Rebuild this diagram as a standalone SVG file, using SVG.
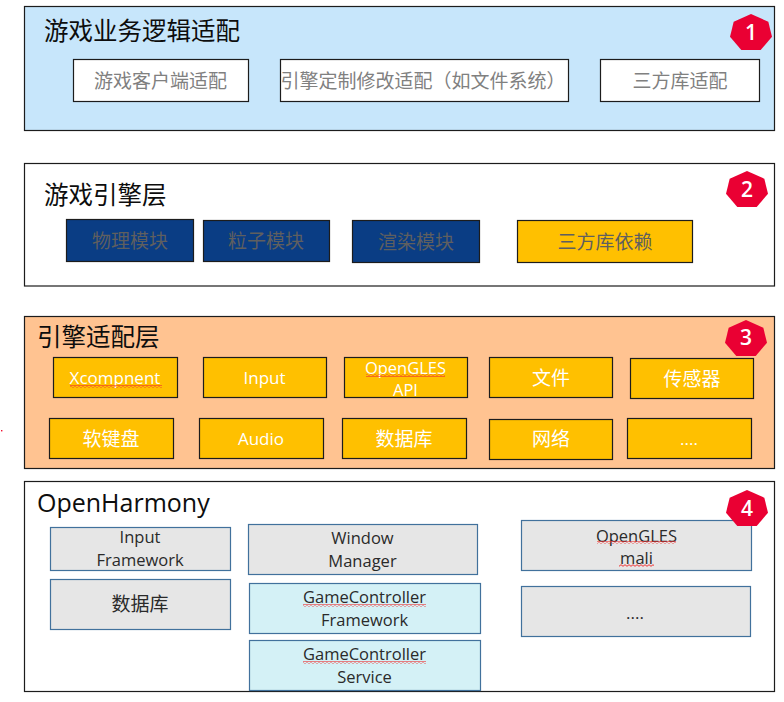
<svg xmlns="http://www.w3.org/2000/svg" width="784" height="702" viewBox="0 0 784 702">
<style>
text{font-family:"Noto Sans CJK SC","Open Sans",sans-serif;text-anchor:middle}
.lat{font-family:"Open Sans","Noto Sans CJK SC",sans-serif;font-size:16.5px}
.layer{stroke:#1c1c1c;stroke-width:1.2}
.box{stroke:#1c1c1c;stroke-width:1.2}
.title{font-size:24.5px;fill:#0d0d0d;text-anchor:start}
.wht{fill:#fff}
.t19{font-size:19px}
.g1{fill:#808080}
.g2{fill:#5f5f5f}
.w{fill:#fff}
.d{fill:#2a2a2a}
.or{fill:#ffc000}
.nv{fill:#0a3d84}
.gr{fill:#e6e6e6;stroke:#41719c;stroke-width:1.2}
.cy{fill:#d4f1f6;stroke:#41719c;stroke-width:1.2}
.num{font-family:"Open Sans",sans-serif;font-size:21px;fill:#fff;font-weight:600}
.sq{fill:none;stroke:#f03030;stroke-width:1}
</style>
<defs>
<polygon id="hept" points="0,0 17.3,7.7 21,22.7 9.7,36 -9.7,36 -21,22.7 -17.3,7.7" fill="#ea0033"/>
<pattern id="wave" width="4" height="3" patternUnits="userSpaceOnUse"><path d="M0,1.5 L1,.7 L3,2.3 L4,1.5" class="sq"/></pattern>
</defs>
<rect id="stray-dot" x="1" y="430" width="1.4" height="1.4" fill="#f01030"/>
<g id="layer-1">
<rect class="layer" x="24.5" y="6.5" width="750" height="124" fill="#c7e6fb"/>
<text class="title" x="44" y="40">游戏业务逻辑适配</text>
</g>
<g id="node-game-client"><rect class="box wht" x="73.5" y="59.5" width="175" height="42"/><text class="t19 g1" x="160.500" y="88">游戏客户端适配</text></g>
<g id="node-engine-custom"><rect class="box wht" x="280.5" y="59.5" width="288" height="42"/><text class="t19 g1" x="423" y="88">引擎定制修改适配（如文件系统）</text></g>
<g id="node-third-adapt"><rect class="box wht" x="600.5" y="59.5" width="159" height="42"/><text class="t19 g1" x="680" y="88">三方库适配</text></g>
<g id="badge-1"><use href="#hept" x="751" y="14"/><text class="num" x="751" y="40">1</text></g>

<g id="layer-2">
<rect class="layer" x="24.5" y="163.500" width="750" height="122.500" fill="#fff"/>
<text class="title" x="44" y="204">游戏引擎层</text>
</g>
<g id="node-physics"><rect class="box nv" x="66.500" y="219.500" width="127" height="42"/><text class="t19 g2" x="130" y="248">物理模块</text></g>
<g id="node-particle"><rect class="box nv" x="203.500" y="220.500" width="126" height="41"/><text class="t19 g2" x="266" y="248">粒子模块</text></g>
<g id="node-render"><rect class="box nv" x="352.500" y="220.500" width="127" height="42"/><text class="t19 g2" x="416" y="249">渲染模块</text></g>
<g id="node-third-dep"><rect class="box or" x="517.500" y="220.500" width="175" height="42"/><text class="t19 g2" x="605" y="249">三方库依赖</text></g>
<g id="badge-2"><use href="#hept" x="747" y="171"/><text class="num" x="747" y="197">2</text></g>

<g id="layer-3">
<rect class="layer" x="24.5" y="316.500" width="750" height="152" fill="#ffc391"/>
<text class="title" x="37" y="346">引擎适配层</text>
</g>
<g id="node-xcomponent"><rect class="box or" x="53.500" y="357.500" width="124" height="40"/><text class="lat w" style="font-size:17px" x="115" y="384">Xcompnent</text><rect x="70" y="385" width="92" height="3" fill="url(#wave)"/></g>
<g id="node-input"><rect class="box or" x="203.500" y="357.500" width="123" height="40"/><text class="lat w" style="font-size:17px" x="264.500" y="384">Input</text></g>
<g id="node-opengles-api"><rect class="box or" x="344.500" y="357.500" width="123" height="40"/><text class="lat w" x="405.500" y="373.500">OpenGLES</text><rect x="366" y="374" width="79" height="3" fill="url(#wave)"/><text class="lat w" x="405.500" y="396">API</text></g>
<g id="node-file"><rect class="box or" x="489.500" y="357.500" width="123" height="40"/><text class="t19 w" x="551" y="385">文件</text></g>
<g id="node-sensor"><rect class="box or" x="630.500" y="358.500" width="123" height="40"/><text class="t19 w" x="692" y="386">传感器</text></g>
<g id="node-keyboard"><rect class="box or" x="49.500" y="418.500" width="124" height="40"/><text class="t19 w" x="111" y="446">软键盘</text></g>
<g id="node-audio"><rect class="box or" x="199.500" y="418.500" width="124" height="40"/><text class="lat w" style="font-size:17px" x="261" y="445">Audio</text></g>
<g id="node-db"><rect class="box or" x="342.500" y="418.500" width="124" height="40"/><text class="t19 w" x="404" y="446">数据库</text></g>
<g id="node-net"><rect class="box or" x="489.500" y="419.500" width="123" height="40"/><text class="t19 w" x="551" y="446">网络</text></g>
<g id="node-more"><rect class="box or" x="627.500" y="418.500" width="124" height="40"/><text class="lat w" style="font-size:17px" x="689" y="445">....</text></g>
<g id="badge-3"><use href="#hept" x="746" y="320"/><text class="num" x="746" y="345">3</text></g>

<g id="layer-4">
<rect class="layer" x="24.5" y="481.500" width="750" height="210" fill="#fff"/>
<text class="lat" style="font-size:25px;fill:#0d0d0d;text-anchor:start" x="37" y="512">OpenHarmony</text>
</g>
<g id="node-input-fw"><rect class="gr" x="50.500" y="527.500" width="180" height="43"/><text class="lat d" x="140" y="543">Input</text><text class="lat d" x="140" y="566">Framework</text></g>
<g id="node-db2"><rect class="gr" x="50.500" y="579.500" width="180" height="50"/><text class="t19 d" x="140" y="611">数据库</text></g>
<g id="node-wm"><rect class="gr" x="248.500" y="524.500" width="229" height="50"/><text class="lat d" x="362.500" y="544">Window</text><text class="lat d" x="362.500" y="567">Manager</text></g>
<g id="node-gc-fw"><rect class="cy" x="249.500" y="583.500" width="231" height="50"/><text class="lat d" x="364.500" y="603">GameController</text><rect x="303" y="604" width="123" height="3" fill="url(#wave)"/><text class="lat d" x="364.500" y="626">Framework</text></g>
<g id="node-gc-svc"><rect class="cy" x="249.500" y="640.500" width="231" height="50"/><text class="lat d" x="364.500" y="660">GameController</text><rect x="303" y="661" width="123" height="3" fill="url(#wave)"/><text class="lat d" x="364.500" y="683">Service</text></g>
<g id="node-gles-mali"><rect class="gr" x="521.500" y="520.500" width="230" height="50"/><text class="lat d" x="636.500" y="541.500">OpenGLES</text><rect x="597" y="541" width="79" height="3" fill="url(#wave)"/><text class="lat d" x="636.500" y="564">mali</text><rect x="619" y="564" width="35" height="3" fill="url(#wave)"/></g>
<g id="node-more2"><rect class="gr" x="521.500" y="586.500" width="229" height="50"/><text class="lat d" style="font-size:17px" x="635" y="619">....</text></g>
<g id="badge-4"><use href="#hept" x="747" y="490"/><text class="num" x="747" y="516">4</text></g>
</svg>
